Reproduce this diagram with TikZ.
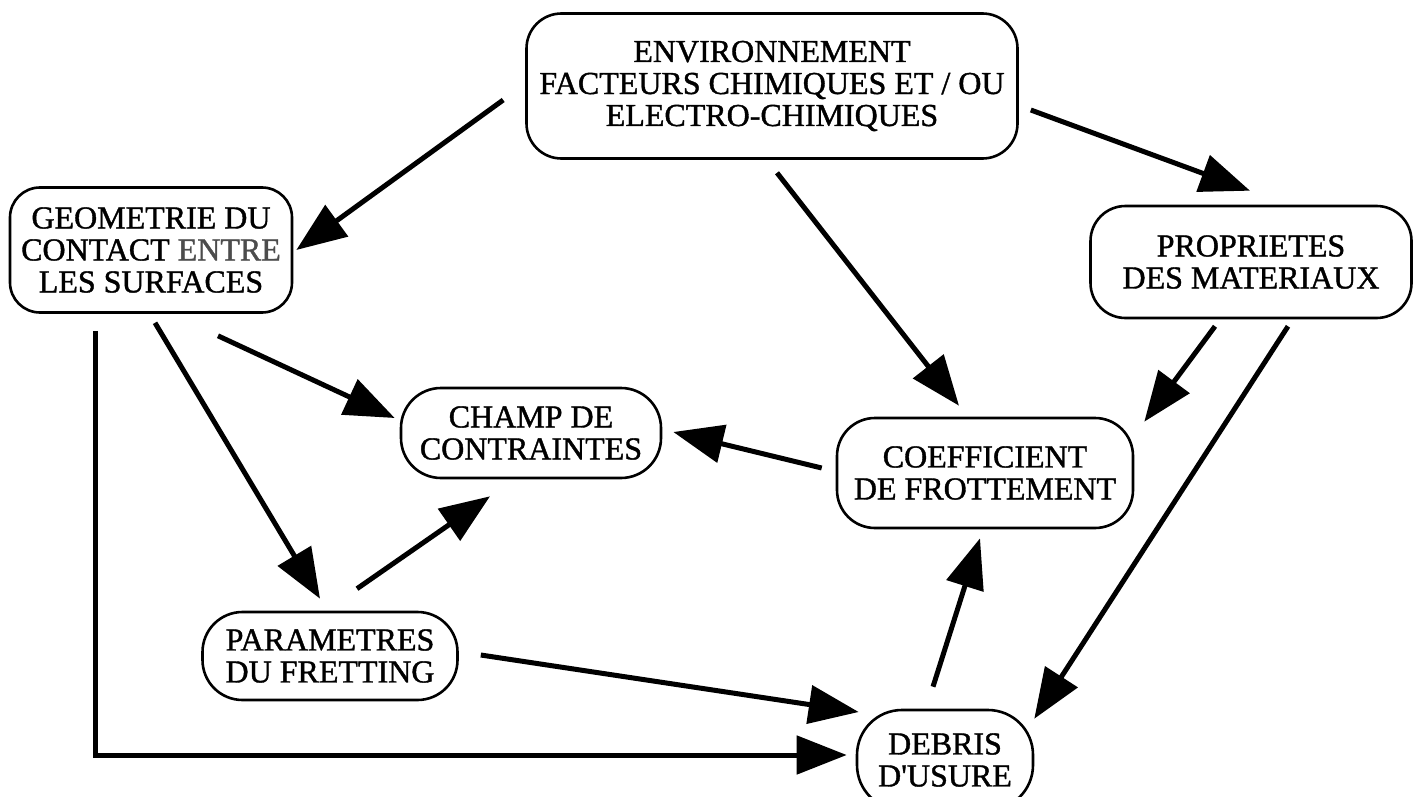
\documentclass[tikz,border=0pt]{standalone}
\usepackage{fontspec}
\setmainfont{Liberation Serif}
\newfontfamily\heavy{Liberation Serif}[FakeBold=1.2]
\usetikzlibrary{arrows.meta,calc}
\begin{document}
\begin{tikzpicture}[x=1pt,y=-1pt,
  box/.style={draw=black,line width=2.6pt,rectangle,align=center,inner sep=0pt,
    font=\heavy\fontsize{32}{32}\selectfont},
  conn/.style={line width=5pt,-{Triangle[length=50pt,width=38pt]}}]
\useasboundingbox (0,0) rectangle (1421,797);
\node[box,rounded corners=35pt,minimum width=491pt,minimum height=145pt] (env) at (772,86)
  {ENVIRONNEMENT\\FACTEURS CHIMIQUES ET / OU\\ELECTRO-CHIMIQUES};
\node[box,rounded corners=30pt,minimum width=282pt,minimum height=125pt] (geo) at (151,250)
  {GEOMETRIE DU\\CONTACT {\color{black!70}ENTRE}\\LES SURFACES};
\node[box,rounded corners=35pt,minimum width=321pt,minimum height=112pt] (prop) at (1251,262)
  {PROPRIETES\\DES MATERIAUX};
\node[box,rounded corners=40pt,minimum width=260pt,minimum height=90pt] (champ) at (531,433)
  {CHAMP DE\\CONTRAINTES};
\node[box,rounded corners=38pt,minimum width=296pt,minimum height=110pt] (coef) at (985,473)
  {COEFFICIENT\\DE FROTTEMENT};
\node[box,rounded corners=40pt,minimum width=255pt,minimum height=88pt] (param) at (330,656)
  {PARAMETRES\\DU FRETTING};
\node[box,rounded corners=45pt,minimum width=176pt,minimum height=100pt] (debris) at (945,760)
  {DEBRIS\\D\textquotesingle USURE};
% connectors
\draw[conn] ($(env.west)+(-22,14)$) -- ($(geo.east)+(3,0)$);
\draw[conn] ($(env.east)+(12,24)$) -- ($(prop.north)+(-1,-14)$);
\draw[conn] ($(env.south)+(5,13)$) -- ($(coef.north)+(-26,-11)$);
\draw[conn] ($(prop.south)+(-36,7)$) -- ($(coef.north east)+(10,5)$);
\draw[conn] ($(prop.south)+(37,7)$) -- ($(debris.north east)+(0,10)$);
\draw[conn] ($(geo.south)+(67,22)$) -- ($(champ.west)+(-5,-15)$);
\draw[conn] ($(geo.south)+(4,9)$) -- ($(param.north)+(-10,-12)$);
\draw[conn] ($(param.north)+(27,-22)$) -- ($(champ.south)+(-41,17)$);
\draw[conn] ($(coef.west)+(-14,-5)$) -- ($(champ.east)+(11,-1)$);
\draw[conn] ($(param.east)+(22,-1)$) -- ($(debris.west)+(3,-48)$);
\draw[conn] ($(geo.south)+(-56,17)$) |- ($(debris.west)+(-9,-5)$);
\draw[conn] ($(debris.north)+(-12,-22)$) -- ($(coef.south)+(-5,9)$);
\end{tikzpicture}
\end{document}
